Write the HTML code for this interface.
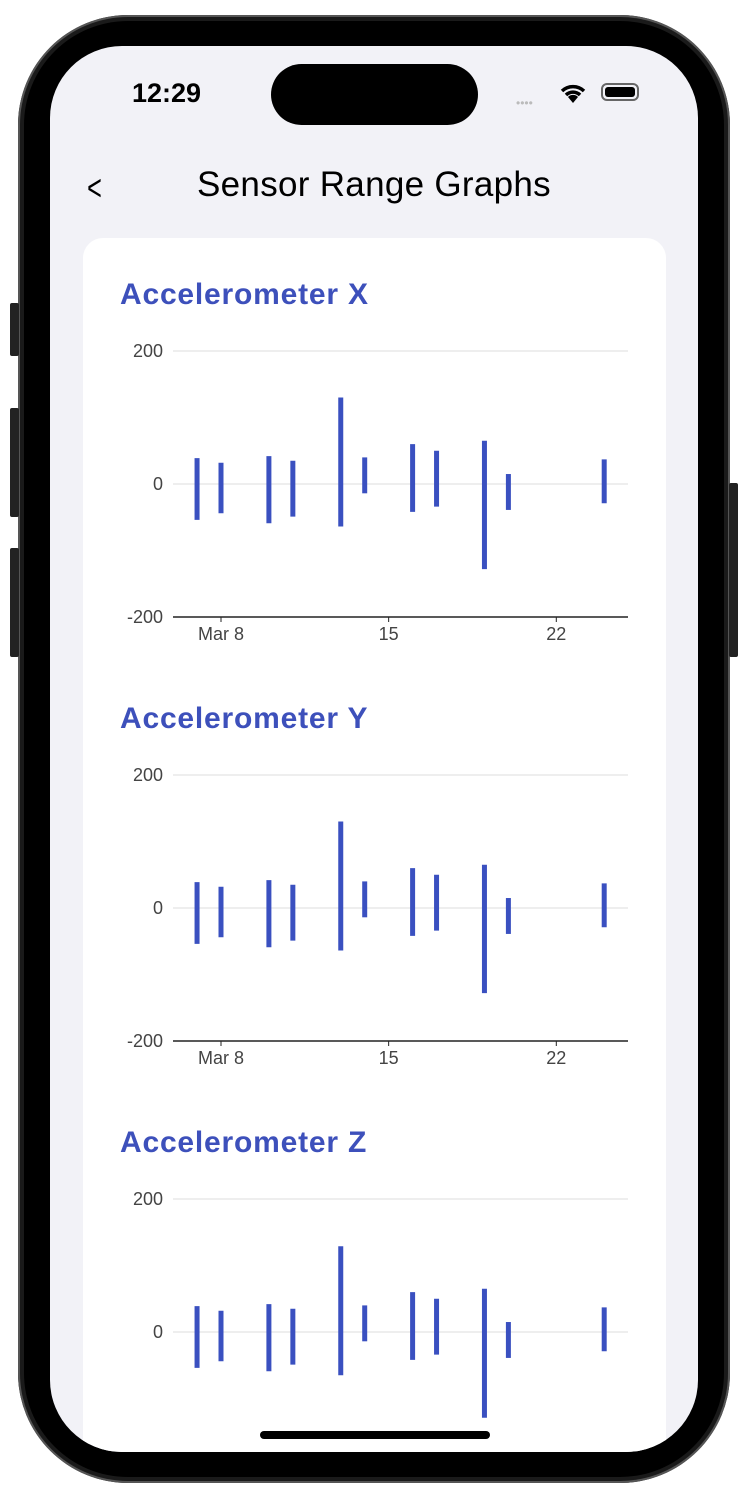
<!DOCTYPE html>
<html><head><meta charset="utf-8">
<style>
html,body{margin:0;padding:0;width:748px;height:1488px;overflow:hidden;background:#fff;font-family:"Liberation Sans",sans-serif;}
.abs{position:absolute;}
</style></head>
<body>
<div class="abs" style="left:18px;top:15px;width:712px;height:1468px;border-radius:110px;background:#1a1a1a;box-shadow:0 0 0 2px #555 inset;"></div>
<div class="abs" style="left:24px;top:21px;width:700px;height:1456px;border-radius:104px;background:#000;"></div>
<div class="abs" style="left:10px;top:303px;width:9px;height:53px;background:#222;border-radius:2px"></div>
<div class="abs" style="left:10px;top:408px;width:9px;height:109px;background:#222;border-radius:2px"></div>
<div class="abs" style="left:10px;top:548px;width:9px;height:109px;background:#222;border-radius:2px"></div>
<div class="abs" style="left:729px;top:483px;width:9px;height:174px;background:#222;border-radius:2px"></div>
<div class="abs" style="left:50px;top:46px;width:648px;height:1406px;border-radius:72px;background:#f2f2f7;overflow:hidden;">
  <div class="abs" style="left:82px;top:32px;font-size:27px;font-weight:bold;color:#000;">12:29</div>
  <div class="abs" style="left:221px;top:18px;width:207px;height:61px;border-radius:31px;background:#000;"></div>
  <div class="abs" style="left:466px;top:50px;font-size:12px;color:#bbb;letter-spacing:0px;">••••</div>
  <svg class="abs" style="left:509px;top:36px" width="28" height="22" viewBox="0 0 28 22"><path d="M14 21 L9 15 A7 7 0 0 1 19 15 Z" fill="#000"/><path d="M3 9 A16 16 0 0 1 25 9" stroke="#000" stroke-width="3.5" fill="none"/><path d="M7 13 A10 10 0 0 1 21 13" stroke="#000" stroke-width="3.5" fill="none"/></svg>
  <div class="abs" style="left:551px;top:37px;width:38px;height:18px;border:2px solid #666;border-radius:6px;box-sizing:border-box;padding:2px"><div style="width:100%;height:100%;background:#000;border-radius:3px"></div></div>
  <div class="abs" style="left:34px;top:121px;font-size:36px;color:#000;transform:scaleX(0.7);">&lt;</div>
  <div class="abs" style="left:0;width:648px;top:119px;text-align:center;font-size:35px;color:#000;letter-spacing:0.3px;">Sensor Range Graphs</div>
  <div class="abs" style="left:33px;top:192px;width:583px;height:1300px;border-radius:20px;background:#fff;"></div>
  <div class="abs" style="left:210px;top:1385px;width:230px;height:8px;border-radius:4px;background:#000;"></div>
</div>
<svg id="charts" class="abs" style="left:0;top:0;clip-path:inset(46px 50px 36px 50px round 72px)" width="748" height="1488"></svg>
<script>
const days = [7, 8, 10, 11, 13, 14, 16, 17, 19, 20, 24];
const highsX = [39, 32, 42, 35, 130, 40, 60, 50, 65, 15, 37];
const lowsX = [-54, -44, -59, -49, -64, -14, -42, -34, -128, -39, -29];
const highsY = [39, 32, 42, 35, 130, 40, 60, 50, 65, 15, 37];
const lowsY = [-54, -44, -59, -49, -64, -14, -42, -34, -128, -39, -29];
const highsZ = [39, 32, 42, 35, 129, 40, 60, 50, 65, 15, 37];
const lowsZ = [-54, -44, -59, -49, -65, -14, -42, -34, -129, -39, -29];
const yTicks = [200, 0, -200];
const xTickDays = [8, 15, 22];
const xTickLabels = ["Mar 8", "15", "22"];
const titles = ["Accelerometer X", "Accelerometer Y", "Accelerometer Z"];
const NS = "http://www.w3.org/2000/svg";
const svg = document.getElementById('charts');
function mk(tag, attrs, txt){const e=document.createElementNS(NS,tag);for(const k in attrs)e.setAttribute(k,attrs[k]);if(txt!==undefined)e.textContent=txt;svg.appendChild(e);return e;}
const series = [[highsX,lowsX],[highsY,lowsY],[highsZ,lowsZ]];
const keys = ['x','y','z'];
series.forEach((s, ci) => {
  const off = ci * 424;
  const xs = d => 221 + (d - 8) * 23.95;
  const ys = v => 484 + off - v * 0.665;
  const t = mk('text', {x:120, y:304+off, 'font-size':30, 'font-weight':'bold', fill:'#3d50bb', 'letter-spacing':'0.8', 'font-family':'Liberation Sans, sans-serif'}, titles[ci]);
  
  
  yTicks.forEach(v => {
    const isBase = v === yTicks[yTicks.length-1];
    const l = mk('line', {x1:173, x2:628, y1:ys(v), y2:ys(v), stroke: isBase ? '#222' : '#dcdcdc', 'stroke-width': isBase ? 1.5 : 1});
    
    
    const tl = mk('text', {x:163, y:ys(v)+6, 'text-anchor':'end', 'font-size':18, fill:'#444'}, String(v));
    
    
  });
  xTickDays.forEach((d, i) => {
    const tk = mk('line', {x1:xs(d), x2:xs(d), y1:ys(-200), y2:ys(-200)+5, stroke:'#222', 'stroke-width':1});
    
    
    const xl = mk('text', {x:xs(d), y:ys(-200)+23, 'text-anchor':'middle', 'font-size':18, fill:'#444'}, xTickLabels[i]);
    
    
  });
  days.forEach((d, i) => {
    const b = mk('line', {x1:xs(d), x2:xs(d), y1:ys(s[0][i]), y2:ys(s[1][i]), stroke:'#3a50c0', 'stroke-width':5, 'stroke-linecap':'butt'});
    
    
  });
});
</script>
</body></html>
